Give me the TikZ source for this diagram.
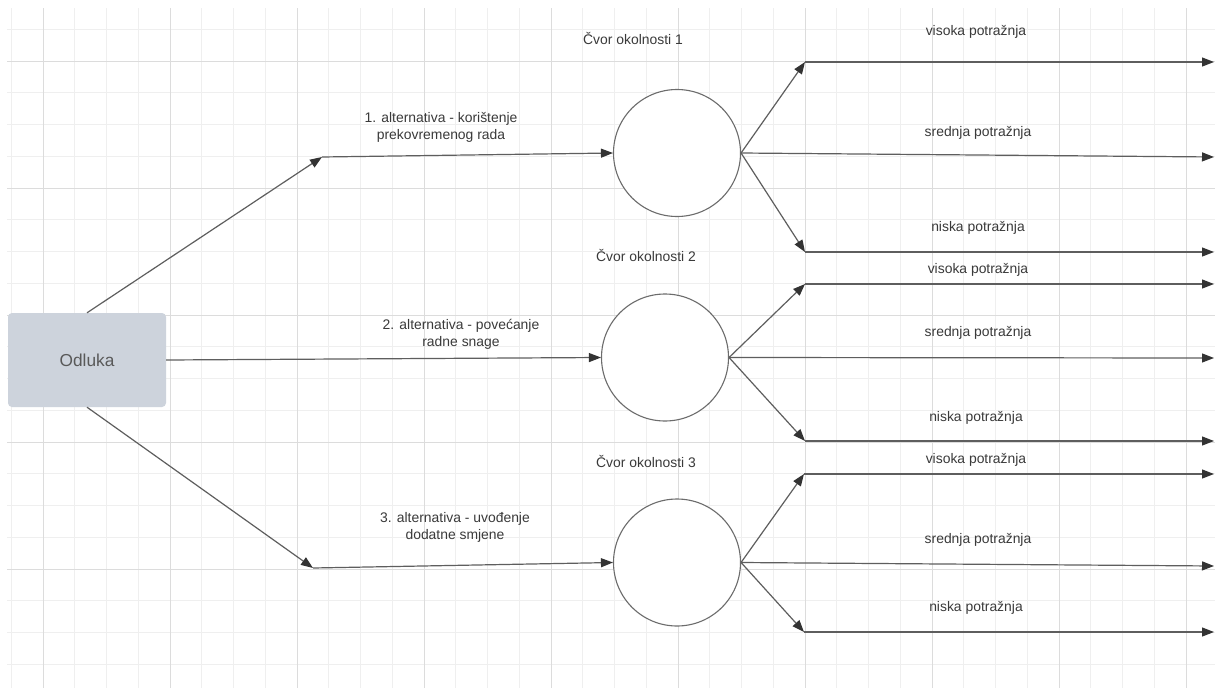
\documentclass[tikz,border=0pt]{standalone}
\usepackage{fontspec}
\setmainfont{Liberation Sans}
\usetikzlibrary{arrows.meta}
\definecolor{gridminor}{HTML}{EFEFEF}
\definecolor{gridmajor}{HTML}{DCDCDC}
\definecolor{boxfill}{HTML}{CDD3DC}
\definecolor{linec}{HTML}{5E5E5E}
\definecolor{tipc}{HTML}{333333}
\definecolor{textc}{HTML}{3A3A3A}
\definecolor{circc}{HTML}{6C6C6C}
\tikzset{
  conn/.style={draw=linec, line width=1.2pt, -{Triangle[length=12pt,width=9pt,color=tipc]}},
  lbl/.style={text=textc, font=\fontsize{13.9}{17}\selectfont, align=center, inner sep=0pt},
  chance/.style={circle, draw=circc, line width=1.1pt, fill=white, minimum size=127pt, inner sep=0pt},
  decbox/.style={rectangle, rounded corners=4pt, fill=boxfill, minimum width=158pt, minimum height=94pt, text=black!65, font=\fontsize{17.3}{20}\selectfont}
}
\begin{document}
\begin{tikzpicture}[x=1pt,y=-1pt]
\useasboundingbox (0,0) rectangle (1215,688);
\fill[white] (0,0) rectangle (1215,688);
% grid
\begin{scope}
\clip (7,8) rectangle (1215,688);
\foreach \i in {0,...,37} {
  \pgfmathsetmacro\gx{11.25+31.75*\i}
  \draw[gridminor, line width=1pt] (\gx,8) -- (\gx,688);
}
\foreach \i in {0,...,20} {
  \pgfmathsetmacro\gy{29.25+31.75*\i}
  \draw[gridminor, line width=1pt] (7,\gy) -- (1215,\gy);
}
\foreach \i in {0,...,9} {
  \pgfmathsetmacro\gx{43+127*\i}
  \draw[gridmajor, line width=1pt] (\gx,8) -- (\gx,688);
}
\foreach \i in {0,...,4} {
  \pgfmathsetmacro\gy{61+127*\i}
  \draw[gridmajor, line width=1pt] (7,\gy) -- (1215,\gy);
}
\end{scope}

% nodes
\node[decbox] (odl) at (87,360) {Odluka};
\node[chance] (c1) at (677,153) {};
\node[chance] (c2) at (665,357.5) {};
\node[chance] (c3) at (677,562.5) {};

\coordinate (j1) at (322,157);
\coordinate (j3) at (313,568);

% branch coordinates
\coordinate (u1) at (805,62);   \coordinate (u1e) at (1214,62);
\coordinate (m1e) at (1214,157);
\coordinate (d1) at (805,252);  \coordinate (d1e) at (1214,252);
\coordinate (u2) at (805,284);  \coordinate (u2e) at (1214,284);
\coordinate (m2e) at (1214,358);
\coordinate (d2) at (805,441);  \coordinate (d2e) at (1214,441);
\coordinate (u3) at (804,474);  \coordinate (u3e) at (1214,474);
\coordinate (m3e) at (1214,566);
\coordinate (d3) at (804,632);  \coordinate (d3e) at (1214,632);

% alternatives
\draw[conn] (odl.north) -- (j1);
\draw[conn] (j1) -- (c1.west);
\draw[conn] (odl.east) -- (c2.west);
\draw[conn] (odl.south) -- (j3);
\draw[conn] (j3) -- (c3.west);

% branches
\foreach \c/\n in {c1/1,c2/2,c3/3} {
  \draw[conn] (\c.east) -- (u\n);
  \draw[conn] (u\n) -- (u\n e);
  \draw[conn] (\c.east) -- (m\n e);
  \draw[conn] (\c.east) -- (d\n);
  \draw[conn] (d\n) -- (d\n e);
}

% labels
\node[lbl] (a1) at (441,127) {1. alternativa - korištenje\\prekovremenog rada};
\node[lbl] (a2) at (461,334) {2. alternativa - povećanje\\radne snage};
\node[lbl] (a3) at (455,527) {3. alternativa - uvođenje\\dodatne smjene};

\node[lbl] (n1) at (633,38) {Čvor okolnosti 1};
\node[lbl] (n2) at (646,255) {Čvor okolnosti 2};
\node[lbl] (n3) at (646,461) {Čvor okolnosti 3};

\node[lbl] (v1) at (976,32) {visoka potražnja};
\node[lbl] (s1) at (978,133) {srednja potražnja};
\node[lbl] (k1) at (978,228) {niska potražnja};
\node[lbl] (v2) at (978,270) {visoka potražnja};
\node[lbl] (s2) at (978,333) {srednja potražnja};
\node[lbl] (k2) at (976,418) {niska potražnja};
\node[lbl] (v3) at (976,460) {visoka potražnja};
\node[lbl] (s3) at (978,540) {srednja potražnja};
\node[lbl] (k3) at (976,608) {niska potražnja};
\end{tikzpicture}
\end{document}
